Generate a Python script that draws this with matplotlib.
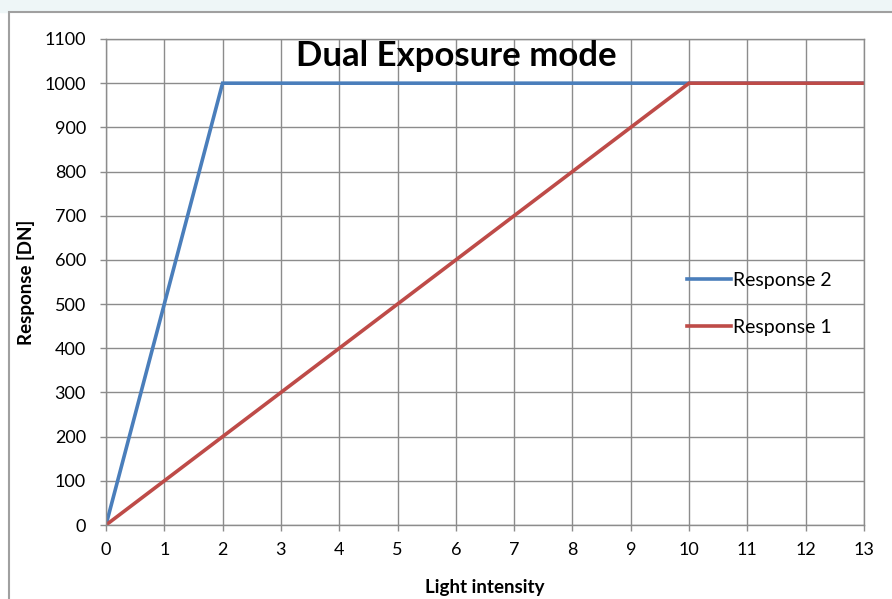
import matplotlib.pyplot as plt
from matplotlib.patches import Rectangle

light = [0, 1, 2, 3, 4, 5, 6, 7, 8, 9, 10, 11, 12, 13]
response_2 = [0, 500, 1000, 1000, 1000, 1000, 1000, 1000, 1000, 1000, 1000, 1000, 1000, 1000]
response_1 = [0, 100, 200, 300, 400, 500, 600, 700, 800, 900, 1000, 1000, 1000, 1000]

plt.rcParams['font.family'] = ['Lato', 'DejaVu Sans']

fig = plt.figure(figsize=(8.92, 5.99), dpi=100)

# faint background shapes and chart frame
fig.patches.append(Rectangle((0, 0.98), 1, 0.02, transform=fig.transFigure,
                             color='#eef6f7', zorder=0))
fig.patches.append(Rectangle((0.01, -0.01), 1.0, 0.99, transform=fig.transFigure,
                             facecolor='white', edgecolor='#a0a0a0', lw=1.5, zorder=1))

ax = fig.add_axes([0.1188, 0.1235, 0.8498, 0.8114])
ax.set_zorder(2)
ax.patch.set_alpha(0)

ax.plot(light, response_2, color='#4a7ebb', lw=2.6, label='Response 2', solid_joinstyle='miter')
ax.plot(light, response_1, color='#be4b48', lw=2.6, label='Response 1', solid_joinstyle='miter')

ax.set_xlim(0, 13)
ax.set_ylim(0, 1100)
ax.set_xticks(light)
ax.set_yticks(range(0, 1101, 100))
ax.grid(True, color='#8c8c8c', lw=1)
ax.set_axisbelow(True)
for s in ax.spines.values():
    s.set_color('#8c8c8c')
    s.set_linewidth(1)
ax.tick_params(colors='#8c8c8c', labelcolor='black', labelsize=13, length=4.5, width=1)
ax.tick_params(axis='x', pad=8)
ax.tick_params(axis='y', pad=10)

ax.set_xlabel('Light intensity', fontsize=13.5, fontweight='bold', labelpad=15)
ax.set_ylabel('Response [DN]', fontsize=13.5, fontweight='bold', labelpad=7)
ax.text(0.462, 0.966, 'Dual Exposure mode', fontsize=25, fontweight='bold',
        ha='center', va='center', transform=ax.transAxes)

ax.legend(loc='center left', bbox_to_anchor=(0.743, 0.455), frameon=False,
          fontsize=14, handlelength=2.3, handletextpad=0.1, labelspacing=1.53)

fig.savefig('out.png', dpi=100)
